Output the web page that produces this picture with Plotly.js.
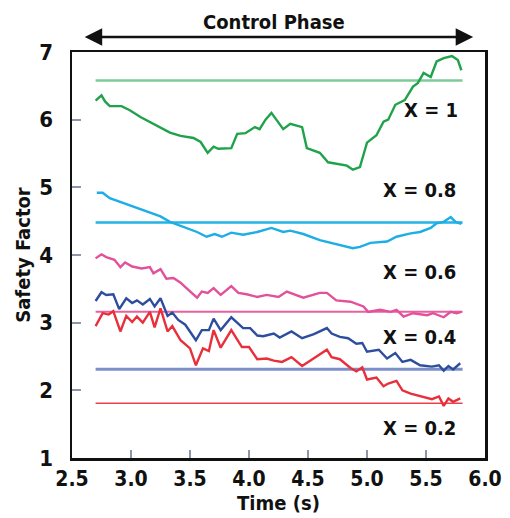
<!DOCTYPE html>
<html>
<head>
<meta charset="utf-8">
<script src="https://cdn.plot.ly/plotly-3.0.1.min.js"></script>
<style>html,body{margin:0;padding:0;background:#fff;}#chart{width:510px;height:518px;}</style>
</head>
<body>
<div id="chart"></div>
<script>
// ---- data ----
var greenX = [2.70,2.75,2.78,2.82,2.92,2.99,3.08,3.16,3.25,3.33,3.42,3.53,3.59,3.65,3.70,3.74,3.85,3.90,3.97,4.05,4.09,4.14,4.19,4.25,4.29,4.35,4.45,4.49,4.60,4.67,4.83,4.88,4.94,5.00,5.08,5.14,5.18,5.24,5.32,5.39,5.43,5.48,5.51,5.54,5.59,5.65,5.72,5.77,5.80];
var greenY = [6.28,6.36,6.27,6.20,6.20,6.14,6.04,5.97,5.89,5.81,5.76,5.73,5.67,5.51,5.60,5.57,5.58,5.79,5.80,5.89,5.86,6.00,6.10,5.95,5.86,5.94,5.89,5.58,5.51,5.37,5.32,5.26,5.30,5.66,5.77,5.97,6.00,6.22,6.29,6.49,6.54,6.69,6.66,6.63,6.86,6.91,6.94,6.88,6.73];

var cyanX = [2.71,2.76,2.82,2.93,3.05,3.16,3.25,3.33,3.44,3.56,3.64,3.71,3.77,3.85,3.95,4.07,4.19,4.29,4.35,4.46,4.60,4.69,4.88,4.94,5.03,5.17,5.25,5.37,5.45,5.54,5.59,5.65,5.71,5.75,5.80];
var cyanY = [4.92,4.92,4.84,4.77,4.69,4.62,4.57,4.49,4.42,4.34,4.27,4.31,4.27,4.33,4.30,4.34,4.40,4.34,4.36,4.31,4.22,4.18,4.10,4.12,4.18,4.20,4.27,4.32,4.34,4.40,4.47,4.49,4.56,4.49,4.46];

var pinkX = [2.70,2.75,2.79,2.86,2.91,2.95,3.01,3.09,3.16,3.19,3.25,3.30,3.36,3.42,3.47,3.56,3.60,3.65,3.70,3.76,3.85,3.91,3.98,4.07,4.15,4.25,4.32,4.46,4.60,4.66,4.74,4.86,4.97,5.01,5.11,5.20,5.25,5.31,5.39,5.51,5.56,5.65,5.71,5.76,5.80];
var pinkY = [3.95,4.01,3.97,3.93,3.82,3.89,3.83,3.80,3.82,3.73,3.79,3.65,3.66,3.59,3.51,3.37,3.46,3.44,3.51,3.41,3.54,3.44,3.42,3.38,3.41,3.38,3.46,3.37,3.44,3.44,3.33,3.31,3.24,3.16,3.19,3.16,3.19,3.09,3.14,3.11,3.14,3.08,3.16,3.14,3.16];

var blueX = [2.70,2.75,2.79,2.85,2.90,2.96,3.01,3.05,3.10,3.16,3.20,3.25,3.31,3.35,3.40,3.46,3.55,3.60,3.66,3.70,3.76,3.85,3.95,4.01,4.07,4.12,4.21,4.26,4.36,4.45,4.55,4.66,4.70,4.77,4.84,4.91,4.96,5.00,5.10,5.17,5.24,5.30,5.37,5.45,5.55,5.61,5.65,5.69,5.73,5.79];
var blueY = [3.32,3.45,3.41,3.42,3.20,3.36,3.29,3.33,3.27,3.35,3.24,3.36,3.10,3.15,3.04,2.97,2.74,2.89,2.89,3.06,2.89,3.08,2.92,2.92,2.81,2.80,2.84,2.78,2.87,2.77,2.83,2.92,2.84,2.79,2.77,2.69,2.70,2.57,2.60,2.47,2.55,2.42,2.45,2.37,2.35,2.37,2.29,2.36,2.31,2.40];

var redX = [2.70,2.76,2.81,2.85,2.91,2.96,3.01,3.05,3.10,3.16,3.20,3.25,3.31,3.35,3.42,3.50,3.55,3.61,3.66,3.70,3.76,3.85,3.94,4.00,4.07,4.15,4.21,4.28,4.36,4.45,4.66,4.70,4.77,4.86,4.91,4.96,5.00,5.08,5.14,5.18,5.25,5.30,5.37,5.45,5.55,5.61,5.65,5.69,5.73,5.79];
var redY = [2.95,3.14,3.12,3.17,2.87,3.10,3.01,3.09,3.00,3.16,2.93,3.21,2.87,2.95,2.74,2.62,2.37,2.62,2.58,2.89,2.63,2.89,2.64,2.64,2.46,2.47,2.44,2.42,2.49,2.36,2.60,2.49,2.46,2.33,2.28,2.34,2.16,2.19,2.06,2.10,2.14,2.00,1.95,1.91,1.87,1.91,1.77,1.88,1.83,1.88];

var levelX = [2.70, 5.81];
var levelGreen = 6.58, levelCyan = 4.48, levelPink = 3.16, levelBlue = 2.31, levelRed = 1.81;

var labelText = ['X = 1','X = 0.8','X = 0.6','X = 0.4','X = 0.2'];
var labelX = [5.79, 5.77, 5.77, 5.77, 5.77];
var labelY = [6.14, 4.96, 3.75, 2.79, 1.44];

var xTicks = [2.5,3.0,3.5,4.0,4.5,5.0,5.5,6.0];
var yTicks = [1,2,3,4,5,6,7];

// ---- drawing ----
var FONT = '"DejaVu Sans Condensed", "Liberation Sans Narrow", "Liberation Sans", Arial, sans-serif';

function flat(v, color, w) {
  return {x: levelX, y: [v, v], mode: 'lines', line: {color: color, width: w}, hoverinfo: 'skip'};
}
function curve(xs, ys, color) {
  return {x: xs, y: ys, mode: 'lines', line: {color: color, width: 2.4}};
}

var traces = [
  flat(levelGreen, '#7ccb98', 2.5),
  flat(levelCyan, '#22b2e6', 2.5),
  flat(levelPink, '#e8609f', 2),
  flat(levelBlue, '#7d8fcb', 3),
  flat(levelRed, '#e9424c', 1.5),
  curve(greenX, greenY, '#1fa24a'),
  curve(cyanX, cyanY, '#1eaee6'),
  curve(pinkX, pinkY, '#e2519a'),
  curve(blueX, blueY, '#2d4e9e'),
  curve(redX, redY, '#e8303c')
];

var annotations = labelText.map(function (t, i) {
  return {x: labelX[i], y: labelY[i], xref: 'x', yref: 'y', text: t, showarrow: false,
          xanchor: 'right', yanchor: 'middle', font: {family: FONT, size: 20, color: '#111', weight: 'bold'}};
});
annotations.push({
  x: 5.90, y: 1.037, xref: 'x', yref: 'paper', ax: -390, ay: 0, text: '',
  showarrow: true, arrowside: 'end+start', arrowhead: 2, startarrowhead: 2,
  arrowsize: 1.4, startarrowsize: 1.4, arrowwidth: 2.5, arrowcolor: '#111'
});
annotations.push({
  x: 0.49, y: 1.074, xref: 'paper', yref: 'paper', text: 'Control Phase', showarrow: false,
  xanchor: 'center', yanchor: 'middle', font: {family: FONT, size: 20, color: '#111', weight: 'bold'}
});

var layout = {
  width: 510, height: 518,
  margin: {l: 72, r: 25, t: 52, b: 60},
  paper_bgcolor: '#fff', plot_bgcolor: '#fff',
  showlegend: false,
  font: {family: FONT, color: '#111'},
  xaxis: {
    range: [2.5, 6.0], tickvals: xTicks, tickformat: '.1f',
    ticks: 'inside', ticklen: 8, tickwidth: 2, tickcolor: '#8f95aa',
    showline: true, linewidth: 2.5, linecolor: '#111', mirror: true,
    showgrid: false, zeroline: false,
    tickfont: {family: FONT, size: 21, color: '#111', weight: 'bold'},
    title: {text: 'Time (s)', standoff: 6, font: {family: FONT, size: 20, color: '#111', weight: 'bold'}}
  },
  yaxis: {
    range: [1, 7], tickvals: yTicks,
    ticks: 'inside', ticklen: 9, tickwidth: 2, tickcolor: '#8f95aa',
    showline: true, linewidth: 2.5, linecolor: '#111', mirror: true,
    showgrid: false, zeroline: false, ticklabelstandoff: 12,
    tickfont: {family: FONT, size: 22, color: '#111', weight: 'bold'},
    title: {text: 'Safety Factor', standoff: 4, font: {family: FONT, size: 20, color: '#111', weight: 'bold'}}
  },
  annotations: annotations
};

Plotly.newPlot('chart', traces, layout, {staticPlot: true, displayModeBar: false});
</script>
</body>
</html>
